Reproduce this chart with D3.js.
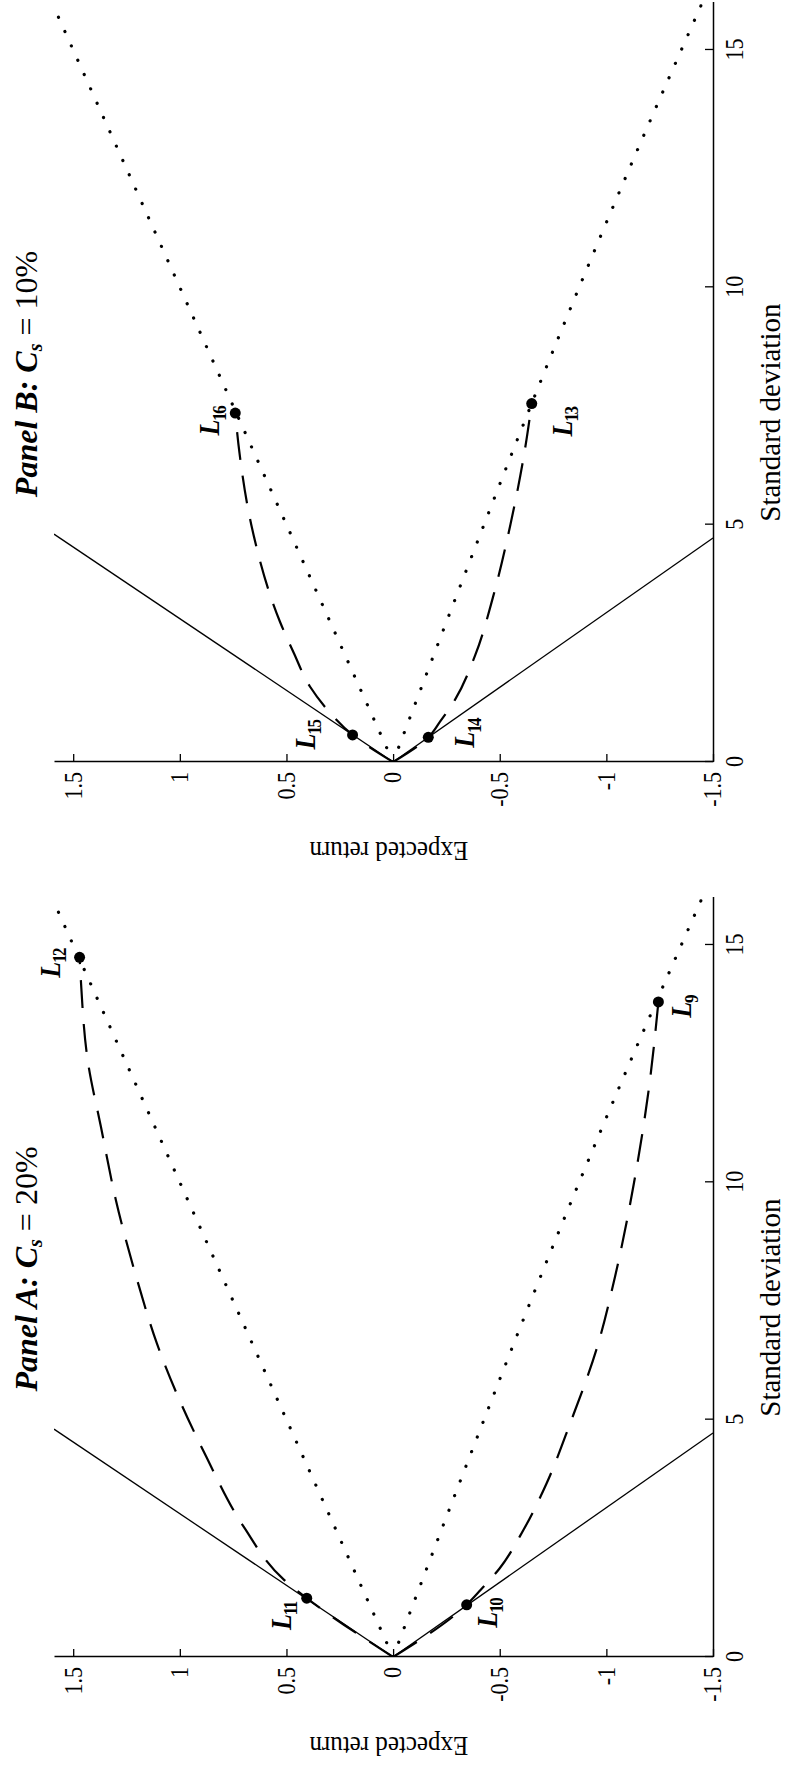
<!DOCTYPE html>
<html>
<head>
<meta charset="utf-8">
<script src="https://cdn.jsdelivr.net/npm/d3@7"></script>
<style>
  body { margin: 0; background: #fff; }
  svg { display: block; }
  text { font-family: "Liberation Serif", "DejaVu Serif", serif; fill: #000; }
</style>
</head>
<body>
<svg id="chart" width="785" height="1773"></svg>
<script>
// values: (standard deviation, expected return)
var sdTicks = [0, 5, 10, 15];
var erTicks = [-1.5, -1, -0.5, 0, 0.5, 1, 1.5];

var solidUpper = [[0, 0], [4.8, 1.59]];
var solidLower = [[0, 0], [4.72, -1.5]];
var dottedUpper = [[0, 0], [4, 0.4], [8, 0.8], [12, 1.2], [16, 1.6]];
var dottedLower = [[0, 0], [4, -0.34], [8, -0.69], [12, -1.06], [16, -1.45]];

var dashAUpper = [[0, 0], [1.24, 0.405], [1.62, 0.51], [2.74, 0.70], [4.19, 0.873], [6.61, 1.108],
                  [7.94, 1.20], [9.63, 1.30], [11.17, 1.37], [12.51, 1.43], [14.33, 1.465], [14.74, 1.47]];
var dashALower = [[0, 0], [1.1, -0.345], [1.41, -0.41], [1.87, -0.50], [2.675, -0.611], [3.66, -0.72],
                  [4.92, -0.83], [6.5, -0.955], [8, -1.04], [10, -1.13], [12, -1.2], [13.8, -1.244]];
var dashBUpper = [[0, 0], [0.57, 0.19], [1.06, 0.30], [1.59, 0.39], [2.29, 0.465], [2.95, 0.53],
                  [5, 0.665], [6.5, 0.72], [7.35, 0.74]];
var dashBLower = [[0, 0], [0.52, -0.165], [0.85, -0.22], [1.31, -0.29], [2.25, -0.385], [3.5, -0.47],
                  [5, -0.55], [6.5, -0.615], [7.55, -0.65]];

var pointsA = [
  {id: '9', sd: 13.8, er: -1.244},
  {id: '10', sd: 1.1, er: -0.345},
  {id: '11', sd: 1.24, er: 0.405},
  {id: '12', sd: 14.74, er: 1.47}
];
var pointsB = [
  {id: '13', sd: 7.55, er: -0.65},
  {id: '14', sd: 0.52, er: -0.165},
  {id: '15', sd: 0.57, er: 0.19},
  {id: '16', sd: 7.35, er: 0.74}
];

var panelNames = ['Panel A: ', 'Panel B: '];
var panelCs = ['20%', '10%'];

// label placement around each point (layout, not data)
var labelPos = {
  '9':  {dx: -5, dy: 33, anchor: 'middle'},
  '10': {dx: 6, dy: 30, anchor: 'end'},
  '11': {dx: -4, dy: -16, anchor: 'end'},
  '12': {dx: -6, dy: -20, anchor: 'middle'},
  '13': {dx: -4, dy: 40, anchor: 'end'},
  '14': {dx: 4, dy: 46, anchor: 'middle'},
  '15': {dx: 0, dy: -38, anchor: 'middle'},
  '16': {dx: -8, dy: -16, anchor: 'middle'}
};

var W = 1773, H = 785;   // figure is drawn landscape and turned a quarter left
var plotW = 759.5;
var panelX = [116, 1011];
var yTop = 54, yBot = 713;
var stretch = 1.12;

var svg = d3.select('#chart');
var root = svg.append('g')
    .attr('transform', 'translate(0,' + W + ') rotate(-90)');

var x = d3.scaleLinear().domain([0, 16]).range([0, plotW]);
var y = d3.scaleLinear().domain([-1.5, 1.59]).range([yBot, yTop]);

var line = d3.line()
    .x(function(d) { return x(d[0]); })
    .y(function(d) { return y(d[1]); });
var curve = d3.line()
    .x(function(d) { return x(d[0]); })
    .y(function(d) { return y(d[1]); })
    .curve(d3.curveMonotoneX);

var defs = svg.append('defs');
defs.append('clipPath').attr('id', 'plotclip')
  .append('rect')
    .attr('x', 0).attr('y', yTop)
    .attr('width', plotW).attr('height', yBot - yTop);

function drawPanel(i, dashUpper, dashLower, points) {
  var g = root.append('g').attr('transform', 'translate(' + panelX[i] + ',0)');
  var plot = g.append('g').attr('clip-path', 'url(#plotclip)');

  [solidUpper, solidLower].forEach(function(s) {
    plot.append('path').attr('d', line(s))
        .attr('fill', 'none').attr('stroke', '#000').attr('stroke-width', 1.3);
  });
  [dottedUpper, dottedLower].forEach(function(s) {
    plot.append('path').attr('d', curve(s))
        .attr('fill', 'none').attr('stroke', '#000').attr('stroke-width', 3.2)
        .attr('stroke-linecap', 'round').attr('stroke-dasharray', '0.1,15.6');
  });
  [dashUpper, dashLower].forEach(function(s) {
    plot.append('path').attr('d', curve(s))
        .attr('fill', 'none').attr('stroke', '#000').attr('stroke-width', 2.2)
        .attr('stroke-dasharray', '28,16');
  });

  g.selectAll('.pt').data(points).enter().append('circle')
      .attr('class', 'pt')
      .attr('cx', function(d) { return x(d.sd); })
      .attr('cy', function(d) { return y(d.er); })
      .attr('r', 5.5)
      .attr('fill', '#000');

  var lab = g.selectAll('.lab').data(points).enter().append('text')
      .attr('class', 'lab')
      .attr('transform', function(d) {
        var p = labelPos[d.id];
        return 'translate(' + (x(d.sd) + p.dx) + ',' + (y(d.er) + p.dy) + ') scale(1,' + stretch + ')';
      })
      .attr('text-anchor', function(d) { return labelPos[d.id].anchor; })
      .style('font-size', '26px')
      .style('font-weight', 'bold');
  lab.append('tspan').style('font-style', 'italic').text('L');
  lab.append('tspan').attr('dy', 6).attr('dx', -1).style('font-size', '17px')
      .style('letter-spacing', '-1.5px')
      .text(function(d) { return d.id; });

  // axes
  var xAxis = g.append('g').attr('transform', 'translate(0,' + yBot + ')')
      .call(d3.axisBottom(x).tickValues(sdTicks).tickSizeInner(-8).tickSizeOuter(0).tickPadding(11));
  var yAxis = g.append('g')
      .call(d3.axisLeft(y).tickValues(erTicks).tickSizeInner(-8).tickSizeOuter(0).tickPadding(10)
        .tickFormat(function(d) { return String(d); }));
  [xAxis, yAxis].forEach(function(a) {
    a.select('.domain').attr('stroke-width', 1.5);
    a.selectAll('.tick line').attr('stroke-width', 1.3);
    a.selectAll('text')
        .attr('font-family', null)
        .style('font-size', '22px')
        .attr('transform', 'scale(1,' + stretch + ')');
  });

  g.append('text')
      .attr('transform', 'translate(' + (plotW * 0.46) + ',780) scale(1,1.05)')
      .attr('text-anchor', 'middle')
      .style('font-size', '29px')
      .text('Standard deviation');

  g.append('text')
      .attr('transform', 'translate(-80,' + y(0.02) + ') rotate(-90) scale(1,1.08)')
      .attr('text-anchor', 'middle')
      .style('font-size', '25px')
      .text('Expected return');

  var t = g.append('text')
      .attr('transform', 'translate(388,37)')
      .attr('text-anchor', 'middle')
      .style('font-size', '32px');
  t.append('tspan').style('font-style', 'italic').style('font-weight', 'bold').text(panelNames[i]);
  t.append('tspan').style('font-style', 'italic').style('font-weight', 'bold').text('C');
  t.append('tspan').attr('dy', 5).style('font-style', 'italic').style('font-weight', 'bold')
      .style('font-size', '20px').text('s');
  t.append('tspan').attr('dy', -5).text(' = ' + panelCs[i]);
}

drawPanel(0, dashAUpper, dashALower, pointsA);
drawPanel(1, dashBUpper, dashBLower, pointsB);
</script>
</body>
</html>
